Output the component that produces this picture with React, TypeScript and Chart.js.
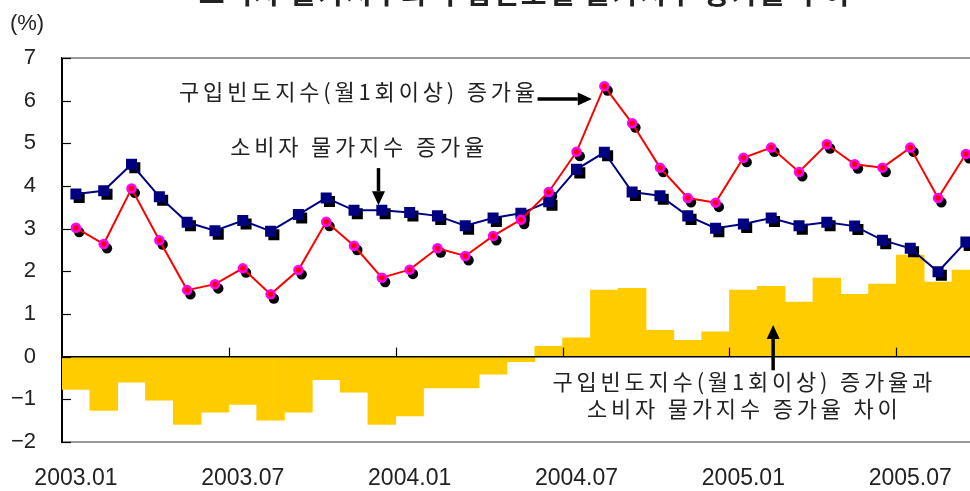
import React, { useEffect, useRef } from 'react';
import { Chart, registerables } from 'chart.js';

Chart.register(...registerables);

const months = [
  '2003.01', '2003.02', '2003.03', '2003.04', '2003.05', '2003.06', '2003.07', '2003.08', '2003.09', '2003.10', '2003.11', '2003.12',
  '2004.01', '2004.02', '2004.03', '2004.04', '2004.05', '2004.06', '2004.07', '2004.08', '2004.09', '2004.10', '2004.11', '2004.12',
  '2005.01', '2005.02', '2005.03', '2005.04', '2005.05', '2005.06', '2005.07', '2005.08', '2005.09',
];

// 소비자 물가지수 증가율 (%)
const cpiRate = [
  3.81, 3.89, 4.51, 3.75, 3.15, 2.95, 3.19, 2.94, 3.33, 3.72,
  3.43, 3.43, 3.38, 3.30, 3.07, 3.25, 3.36, 3.63, 4.39, 4.79, 3.86,
  3.77, 3.30, 3.01, 3.11, 3.25, 3.07, 3.15, 3.06, 2.73, 2.54, 1.99, 2.69,
];

// 구입빈도지수(월1회이상) 증가율 (%)
const freqRate = [
  3.02, 2.64, 3.94, 2.73, 1.56, 1.70, 2.07, 1.46, 2.03, 3.16,
  2.60, 1.85, 2.04, 2.54, 2.36, 2.83, 3.21, 3.86, 4.80, 6.34, 5.47,
  4.43, 3.72, 3.61, 4.66, 4.90, 4.33, 4.98, 4.51, 4.43, 4.90, 3.72, 4.75,
];

// 차이 (%p)
const gapRate = [
  -0.77, -1.26, -0.60, -1.02, -1.59, -1.30, -1.12, -1.49, -1.30, -0.54,
  -0.83, -1.59, -1.39, -0.73, -0.73, -0.41, -0.12, 0.24, 0.44, 1.56, 1.60,
  0.62, 0.38, 0.58, 1.56, 1.65, 1.28, 1.84, 1.46, 1.70, 2.38, 1.75, 2.03,
];

const labeledMonths = ['.01', '.07'];
const yMin = -2;
const yMax = 7;

const TITLE = '소비자 물가지수와 구입빈도별 물가지수 증가율 추이';
const UNIT = '(%)';
const LABEL_FREQ = '구입빈도지수(월1회이상) 증가율';
const LABEL_CPI = '소비자 물가지수 증가율';
const LABEL_GAP = ['구입빈도지수(월1회이상) 증가율과', '소비자 물가지수 증가율 차이'];

const NUM_FONT = "'Liberation Sans', Arial, sans-serif";
const KR_FONT = "'Noto Sans CJK KR', 'Noto Sans', sans-serif";
const TEXT_COLOR = '#222';

function arrow(ctx: CanvasRenderingContext2D, x1: number, y1: number, x2: number, y2: number) {
  const ang = Math.atan2(y2 - y1, x2 - x1);
  const head = 14;
  const half = 6.5;
  const bx = x2 - head * Math.cos(ang);
  const by = y2 - head * Math.sin(ang);
  ctx.save();
  ctx.strokeStyle = '#000';
  ctx.fillStyle = '#000';
  ctx.lineWidth = 3.5;
  ctx.beginPath();
  ctx.moveTo(x1, y1);
  ctx.lineTo(bx, by);
  ctx.stroke();
  ctx.beginPath();
  ctx.moveTo(x2, y2);
  ctx.lineTo(bx + half * Math.sin(ang), by - half * Math.cos(ang));
  ctx.lineTo(bx - half * Math.sin(ang), by + half * Math.cos(ang));
  ctx.closePath();
  ctx.fill();
  ctx.restore();
}

const shadowPlugin = {
  id: 'shadowShift',
  beforeDatasetDraw(chart: any, args: any) {
    const ds = chart.data.datasets[args.index];
    if (ds.shadowShift) {
      chart.ctx.save();
      chart.ctx.translate(ds.shadowShift[0], ds.shadowShift[1]);
    }
  },
  afterDatasetDraw(chart: any, args: any) {
    const ds = chart.data.datasets[args.index];
    if (ds.shadowShift) chart.ctx.restore();
  },
};

const decoPlugin = {
  id: 'deco',
  afterDatasetsDraw(chart: any) {
    const { ctx, chartArea } = chart;
    const xs = chart.scales.x;
    const ys = chart.scales.y;
    ctx.save();
    // top frame line
    ctx.strokeStyle = '#999';
    ctx.lineWidth = 2;
    ctx.beginPath();
    ctx.moveTo(chartArea.left, chartArea.top);
    ctx.lineTo(chartArea.right, chartArea.top);
    ctx.stroke();
    // zero line
    const y0 = ys.getPixelForValue(0);
    ctx.strokeStyle = '#000';
    ctx.lineWidth = 1.5;
    ctx.beginPath();
    ctx.moveTo(chartArea.left, y0);
    ctx.lineTo(chartArea.right, y0);
    ctx.stroke();
    // tick marks at half-year boundaries on zero line
    ctx.lineWidth = 1.2;
    months.forEach((m, i) => {
      if (i === 0) return;
      if (!labeledMonths.some((s) => m.endsWith(s))) return;
      const x = Math.round(xs.getPixelForValue(i - 0.5)) + 0.5;
      ctx.beginPath();
      ctx.moveTo(x, y0);
      ctx.lineTo(x, y0 - 9);
      ctx.stroke();
    });
    // y inward tick marks
    ys.ticks.forEach((t: any) => {
      const y = Math.round(ys.getPixelForValue(t.value)) + 0.5;
      ctx.beginPath();
      ctx.moveTo(chartArea.left, y);
      ctx.lineTo(chartArea.left + 9, y);
      ctx.stroke();
    });
    // unit
    ctx.fillStyle = TEXT_COLOR;
    ctx.font = `22px ${NUM_FONT}`;
    ctx.textAlign = 'center';
    ctx.textBaseline = 'middle';
    ctx.fillText(UNIT, 27, 24);
    // clipped title
    ctx.font = `bold 28px ${KR_FONT}`;
    ctx.textBaseline = 'alphabetic';
    (ctx as any).letterSpacing = '2px';
    ctx.fillText(TITLE, 525, 4);
    // annotations
    ctx.font = `22px ${KR_FONT}`;
    (ctx as any).letterSpacing = '3.8px';
    // 구입빈도지수 label + arrow
    const yF = ys.getPixelForValue(6.04);
    ctx.textAlign = 'right';
    ctx.fillText(LABEL_FREQ, xs.getPixelForValue(16.5) + 4, yF + 1);
    arrow(ctx, xs.getPixelForValue(16.6), yF, xs.getPixelForValue(18.55), yF);
    // CPI label + arrow
    ctx.textAlign = 'center';
    ctx.fillText(LABEL_CPI, xs.getPixelForValue(10.11) + 2, ys.getPixelForValue(4.72));
    const xa = xs.getPixelForValue(10.88);
    arrow(ctx, xa, ys.getPixelForValue(4.42), xa, ys.getPixelForValue(3.55));
    // gap label + arrow
    const xg = xs.getPixelForValue(23.96) + 2;
    ctx.fillText(LABEL_GAP[0], xg, ys.getPixelForValue(-0.79));
    ctx.fillText(LABEL_GAP[1], xg, ys.getPixelForValue(-1.42));
    const xb = xs.getPixelForValue(25.07);
    arrow(ctx, xb, ys.getPixelForValue(-0.32), xb, ys.getPixelForValue(0.74));
    ctx.restore();
  },
};

export default function App() {
  const ref = useRef<HTMLCanvasElement>(null);
  useEffect(() => {
    const canvas = ref.current;
    if (!canvas) return;
    const chart = new Chart(canvas, {
      type: 'bar',
      data: {
        labels: months,
        datasets: [
          {
            type: 'bar',
            data: gapRate,
            backgroundColor: '#FFCC00',
            borderWidth: 0,
            categoryPercentage: 1,
            barPercentage: 1,
            order: 10,
          } as any,
          {
            type: 'line',
            data: freqRate,
            showLine: false,
            pointStyle: 'circle',
            pointRadius: 5.2,
            pointBackgroundColor: '#000',
            pointBorderWidth: 0,
            shadowShift: [3.3, 4.3],
            order: 6,
          } as any,
          {
            type: 'line',
            data: cpiRate,
            showLine: false,
            pointStyle: 'rect',
            pointRadius: 7.8,
            pointBackgroundColor: '#000',
            pointBorderWidth: 0,
            shadowShift: [3.3, 3.5],
            order: 5,
          } as any,
          {
            type: 'line',
            data: cpiRate,
            borderColor: '#000080',
            borderWidth: 2,
            tension: 0,
            pointStyle: 'rect',
            pointRadius: 7.8,
            pointBackgroundColor: '#000080',
            pointBorderWidth: 0,
            order: 2,
          } as any,
          {
            type: 'line',
            data: freqRate,
            borderColor: '#FF0000',
            borderWidth: 2,
            tension: 0,
            pointStyle: 'circle',
            pointRadius: 4,
            pointBackgroundColor: '#FF0000',
            pointBorderColor: '#FF00FF',
            pointBorderWidth: 2.5,
            order: 1,
          } as any,
        ],
      },
      options: {
        animation: false,
        responsive: false,
        events: [],
        layout: { padding: { top: 58, left: 0, right: 0, bottom: 0 } },
        plugins: { legend: { display: false }, tooltip: { enabled: false }, title: { display: false } },
        scales: {
          x: {
            grid: { display: false, drawTicks: false },
            border: { display: true, color: '#999', width: 2 },
            ticks: {
              autoSkip: false,
              maxRotation: 0,
              padding: 23,
              color: TEXT_COLOR,
              font: { family: NUM_FONT, size: 23 },
              callback: (_v: any, i: number) => (labeledMonths.some((s) => months[i].endsWith(s)) ? months[i] : ''),
            },
            afterFit: (s: any) => {
              s.height = 49;
            },
          },
          y: {
            min: yMin,
            max: yMax,
            grid: { display: false, drawTicks: false },
            border: { display: true, color: '#000', width: 2 },
            ticks: {
              stepSize: 1,
              padding: 26,
              color: TEXT_COLOR,
              font: { family: NUM_FONT, size: 22 },
              callback: (v: any) => (v < 0 ? '\u2212' + Math.abs(v) : String(v)),
            },
            afterFit: (s: any) => {
              s.width = 62;
            },
          },
        },
      } as any,
      plugins: [shadowPlugin, decoPlugin],
    });
    return () => chart.destroy();
  }, []);
  return (
    <div style={{ position: 'fixed', left: 0, top: 0, width: 970, height: 491, overflow: 'hidden', background: '#fff' }}>
      <canvas ref={ref} width={989} height={491} style={{ display: 'block' }} />
    </div>
  );
}
